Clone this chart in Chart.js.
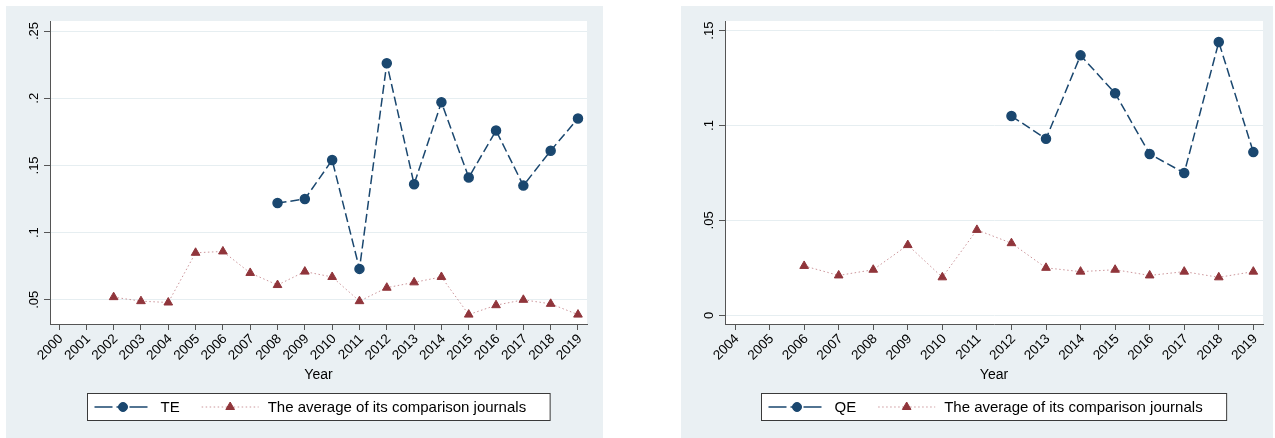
<!DOCTYPE html>
<html>
<head>
<meta charset="utf-8">
<title>TE / QE</title>
<script src="https://cdn.jsdelivr.net/npm/chart.js@4.4.1/dist/chart.umd.min.js"></script>
<style>
    body { margin: 0; background: #fff; width: 1275px; height: 438px; overflow: hidden; position: relative; }
    .panel { position: absolute; top: 6px; height: 432px; background: #eaf0f3; }
    #leftPanel { left: 6px; width: 597px; }
    #rightPanel { left: 681px; width: 592px; }
</style>
</head>
<body>
<div class="panel" id="leftPanel"><canvas id="teChart" width="597" height="432"></canvas></div>
<div class="panel" id="rightPanel"><canvas id="qeChart" width="592" height="432"></canvas></div>

<script>
// ========= DATA =========
const teYears = [2008, 2009, 2010, 2011, 2012, 2013, 2014, 2015, 2016, 2017, 2018, 2019];
const teValues = [0.122, 0.125, 0.154, 0.073, 0.226, 0.136, 0.197, 0.141, 0.176, 0.135, 0.161, 0.185];

const teCompYears = [2002, 2003, 2004, 2005, 2006, 2007, 2008, 2009, 2010, 2011, 2012, 2013, 2014, 2015, 2016, 2017, 2018, 2019];
const teCompValues = [0.052, 0.049, 0.048, 0.085, 0.086, 0.070, 0.061, 0.071, 0.067, 0.049, 0.059, 0.063, 0.067, 0.039, 0.046, 0.050, 0.047, 0.039];

const qeYears = [2012, 2013, 2014, 2015, 2016, 2017, 2018, 2019];
const qeValues = [0.105, 0.093, 0.137, 0.117, 0.085, 0.075, 0.144, 0.086];

const qeCompYears = [2006, 2007, 2008, 2009, 2010, 2011, 2012, 2013, 2014, 2015, 2016, 2017, 2018, 2019];
const qeCompValues = [0.026, 0.021, 0.024, 0.037, 0.020, 0.045, 0.038, 0.025, 0.023, 0.024, 0.021, 0.023, 0.020, 0.023];

// tick values / labels
const teXTicks = [2000, 2001, 2002, 2003, 2004, 2005, 2006, 2007, 2008, 2009, 2010, 2011, 2012, 2013, 2014, 2015, 2016, 2017, 2018, 2019];
const teYTicks = [0.05, 0.1, 0.15, 0.2, 0.25];
const teYLabels = ['.05', '.1', '.15', '.2', '.25'];

const qeXTicks = [2004, 2005, 2006, 2007, 2008, 2009, 2010, 2011, 2012, 2013, 2014, 2015, 2016, 2017, 2018, 2019];
const qeYTicks = [0, 0.05, 0.1, 0.15];
const qeYLabels = ['0', '.05', '.1', '.15'];

const compLabel = 'The average of its comparison journals';

// ========= STYLE =========
const NAVY = '#1a476f';
const MAROON = '#90353b';
const AXIS = '#555';
const FAMILY = '"Liberation Sans", Arial, Helvetica, sans-serif';

// white plot region
const plotBackground = {
    id: 'plotBackground',
    beforeDraw(chart) {
        const { ctx, chartArea: a } = chart;
        ctx.save();
        ctx.fillStyle = '#fff';
        ctx.fillRect(a.left, a.top, a.right - a.left, a.bottom - a.top);
        ctx.restore();
    }
};

// Stata-like boxed legend under the axis
const bottomLegend = {
    id: 'bottomLegend',
    afterDraw(chart) {
        const { ctx, chartArea: a } = chart;
        ctx.save();
        ctx.font = '15px ' + FAMILY;
        const items = chart.data.datasets.map(ds => ({ ds, w: ctx.measureText(ds.label).width }));
        const lineLen = 57, gapText = 9, gapItem = 22, padL = 7, padR = 24;
        let total = padL + padR + gapItem * (items.length - 1);
        items.forEach(it => { total += lineLen + gapText + it.w; });

        const boxX = Math.round((a.left + a.right) / 2 - total / 2) + 0.5;
        const boxY = 387.5, boxH = 27;
        ctx.fillStyle = '#fff';
        ctx.fillRect(boxX, boxY, total, boxH);
        ctx.strokeStyle = '#3a3a3a';
        ctx.lineWidth = 1;
        ctx.strokeRect(boxX, boxY, total, boxH);

        const cy = boxY + boxH / 2;
        let x = boxX + padL;
        items.forEach(({ ds, w }) => {
            ctx.save();
            ctx.strokeStyle = ds.borderColor;
            ctx.lineWidth = ds.borderWidth;
            // legend key uses a longer dash like the original
            ctx.setLineDash(ds.legendDash || []);
            ctx.beginPath();
            ctx.moveTo(x, cy);
            ctx.lineTo(x + lineLen, cy);
            ctx.stroke();
            ctx.restore();

            ctx.save();
            ctx.fillStyle = ds.pointBackgroundColor;
            ctx.strokeStyle = ds.pointBorderColor;
            Chart.helpers.drawPoint(ctx, { pointStyle: ds.pointStyle, radius: ds.pointRadius, borderWidth: 1, rotation: 0 }, x + lineLen / 2, cy);
            ctx.restore();

            ctx.fillStyle = '#000';
            ctx.textAlign = 'left';
            ctx.textBaseline = 'middle';
            ctx.fillText(ds.label, x + lineLen + gapText, cy + 1);
            x += lineLen + gapText + w + gapItem;
        });
        ctx.restore();
    }
};

function toPoints(years, values) {
    return years.map((year, i) => ({ x: year, y: values[i] }));
}

// ========= PANEL =========
function makePanel(canvasId, p) {
    new Chart(document.getElementById(canvasId), {
        type: 'line',
        data: {
            datasets: [{
                label: p.mainLabel,
                data: toPoints(p.mainYears, p.mainValues),
                borderColor: NAVY,
                borderWidth: 1.5,
                borderDash: [9, 4],
                legendDash: [18, 4, 10, 3],
                pointStyle: 'circle',
                pointRadius: 4.5,
                pointBackgroundColor: NAVY,
                pointBorderColor: NAVY,
                tension: 0,
                fill: false
            }, {
                label: compLabel,
                data: toPoints(p.compYears, p.compValues),
                borderColor: 'rgba(170, 80, 88, 0.6)',
                borderWidth: 1,
                borderDash: [1.5, 2.5],
                legendDash: [1.5, 2.5],
                pointStyle: 'triangle',
                pointRadius: 5,
                pointBackgroundColor: MAROON,
                pointBorderColor: MAROON,
                tension: 0,
                fill: false
            }]
        },
        options: {
            responsive: false,
            animation: false,
            layout: {
                autoPadding: false,
                padding: { top: 15, right: p.padRight, left: 0, bottom: 0 }
            },
            plugins: {
                legend: { display: false },
                tooltip: { enabled: false }
            },
            scales: {
                x: {
                    type: 'linear',
                    min: p.xMin,
                    max: p.xMax,
                    afterBuildTicks: s => { s.ticks = p.xTicks.map(v => ({ value: v })); },
                    afterFit: s => { s.height = 114; },
                    ticks: {
                        autoSkip: false,
                        minRotation: 45,
                        maxRotation: 45,
                        padding: 1,
                        labelOffset: 2,
                        color: '#000',
                        font: { size: 13.5, family: FAMILY },
                        callback: v => String(v)
                    },
                    grid: { drawOnChartArea: false, drawTicks: true, tickLength: 6, color: AXIS },
                    border: { color: AXIS, width: 1 },
                    title: {
                        display: true,
                        text: 'Year',
                        color: '#000',
                        font: { size: 14, family: FAMILY },
                        padding: { top: 0, bottom: 54 }
                    }
                },
                y: {
                    type: 'linear',
                    min: p.yMin,
                    max: p.yMax,
                    afterBuildTicks: s => { s.ticks = p.yTicks.map(v => ({ value: v })); },
                    afterFit: s => { s.width = 44; },
                    ticks: {
                        minRotation: 90,
                        maxRotation: 90,
                        crossAlign: 'center',
                        padding: 1,
                        color: '#000',
                        font: { size: 13, family: FAMILY },
                        callback: (v, i) => p.yLabels[i]
                    },
                    grid: { color: '#e6eef1', lineWidth: 1, tickColor: AXIS, tickLength: 6, drawTicks: true },
                    border: { color: AXIS, width: 1 }
                }
            }
        },
        plugins: [plotBackground, bottomLegend]
    });
}

// ========= INITIALIZE =========
makePanel('teChart', {
    mainLabel: 'TE',
    mainYears: teYears, mainValues: teValues,
    compYears: teCompYears, compValues: teCompValues,
    xTicks: teXTicks, yTicks: teYTicks, yLabels: teYLabels,
    xMin: 1999.67, xMax: 2019.33,
    yMin: 0.032, yMax: 0.2575,
    padRight: 16
});

makePanel('qeChart', {
    mainLabel: 'QE',
    mainYears: qeYears, mainValues: qeValues,
    compYears: qeCompYears, compValues: qeCompValues,
    xTicks: qeXTicks, yTicks: qeYTicks, yLabels: qeYLabels,
    xMin: 2003.71, xMax: 2019.28,
    yMin: -0.0046, yMax: 0.1551,
    padRight: 10
});
</script>
</body>
</html>
